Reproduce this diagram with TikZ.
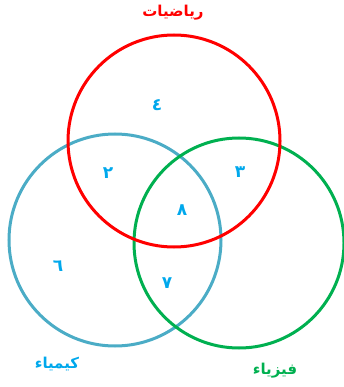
\documentclass[tikz,border=0pt]{standalone}
\usepackage{fontspec}
\TeXXeTstate=1
\newfontfamily\arabicbold[Script=Arabic]{DejaVu Sans Bold}
\definecolor{cred}{RGB}{255,0,0}
\definecolor{cblue}{RGB}{75,172,198}
\definecolor{cgreen}{RGB}{0,176,80}
\definecolor{tblue}{RGB}{0,168,236}
\tikzset{
  ring/.style={line width=3pt},
  num/.style={text=tblue, font=\arabicbold\fontsize{17}{17}\selectfont},
  lbl/.style={font=\arabicbold\fontsize{15}{15}\selectfont}
}
\begin{document}
\begin{tikzpicture}[x=1pt,y=-1pt]
\useasboundingbox (0,0) rectangle (343,387);
\draw[ring, cblue] (115,240) circle (106);
\draw[ring, cgreen] (239,243) circle (105);
\draw[ring, cred] (174,141) circle (106);
\node[lbl, text=cred] (math) at (173,13) {\beginR رياضيات\endR};
\node[lbl, text=tblue] (chem) at (57,364) {\beginR كيمياء\endR};
\node[lbl, text=cgreen] (phys) at (275,371) {\beginR فيزياء\endR};
\node[num] (n4) at (157,105) {٤};
\node[num] (n2) at (108,173) {٢};
\node[num] (n3) at (240,172) {٣};
\node[num] (n8) at (182,210) {٨};
\node[num] (n6) at (58,266) {٦};
\node[num] (n7) at (167,283) {٧};
\end{tikzpicture}
\end{document}
